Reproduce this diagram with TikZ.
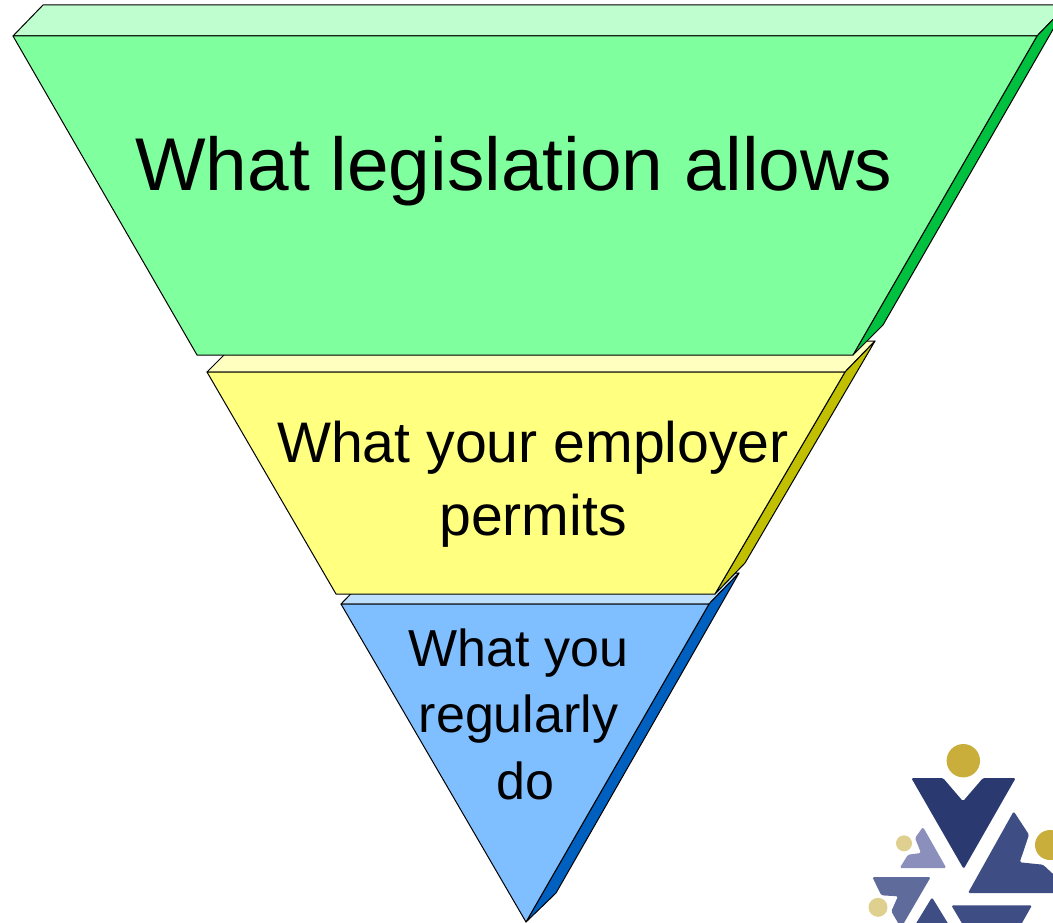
\documentclass[tikz,border=0pt]{standalone}
\usepackage{fontspec}
\setmainfont{Liberation Sans}
\tikzset{
  face/.style={draw=black,line width=1pt,line join=round},
  logo/.style={rounded corners=1.5pt,draw=none},
  label/.style={anchor=base,inner sep=0pt,align=center,text=black},
}
\definecolor{gF}{HTML}{80FF9F}\definecolor{gT}{HTML}{BFFFCF}\definecolor{gS}{HTML}{00C040}
\definecolor{yF}{HTML}{FFFF80}\definecolor{yT}{HTML}{FFFFBF}\definecolor{yS}{HTML}{C0C000}
\definecolor{bF}{HTML}{80BFFF}\definecolor{bT}{HTML}{BFDFFF}\definecolor{bS}{HTML}{0060C0}
\definecolor{lgold}{HTML}{C9AE3C}\definecolor{lpale}{HTML}{E0D08F}
\definecolor{lnavy}{HTML}{2A3A70}\definecolor{lblue}{HTML}{3E4D83}
\definecolor{lmid}{HTML}{5F6B9B}\definecolor{llight}{HTML}{8A8FBB}
\begin{document}
\begin{tikzpicture}[x=1pt,y=-1pt]
\useasboundingbox (0,0) rectangle (1053,923);
\clip (0,0) rectangle (1053,923);
% blue layer
\draw[face,fill=bT] (341,604) -- (371,573) -- (739,573) -- (709,604) -- cycle;
\draw[face,fill=bS] (709,604) -- (739,573) -- (556,893) -- (526,922) -- cycle;
\draw[face,fill=bF] (341,604) -- (709,604) -- (526,922) -- cycle;
% yellow layer
\draw[face,fill=yT] (207,372) -- (238,341) -- (875,341) -- (845,372) -- cycle;
\draw[face,fill=yS] (845,372) -- (875,341) -- (745,563) -- (715,594) -- cycle;
\draw[face,fill=yF] (207,372) -- (845,372) -- (715,594) -- (336,594) -- cycle;
% green layer
\draw[face,fill=gT] (13,36) -- (43,5) -- (1067,5) -- (1037,36) -- cycle;
\draw[face,fill=gS] (1037,36) -- (1067,5) -- (883,325) -- (853,355) -- cycle;
\draw[face,fill=gF] (13,36) -- (1037,36) -- (853,355) -- (197,355) -- cycle;
% labels
\node[label,font=\fontsize{74.8}{80}\selectfont] (legislation) at (513.7,191) {What legislation allows};
\node[label,font=\fontsize{57.2}{73}\selectfont] (employer) at (533,535) {What your employer\\permits};
\node[label,font=\fontsize{52}{66.5}\selectfont] (regular) at (518.5,799) {What you\\regularly\\\hspace*{14pt}do};
% logo
\fill[lgold] (963.3,760.7) circle (16.7);
\fill[lgold] (1050,845) circle (15);
\fill[lpale] (904,843.3) circle (8);
\fill[lpale] (878,907.3) circle (9.5);
\fill[lnavy,logo] (911.3,778) -- (943,778) -- (963,801.3) -- (983,778) -- (1015.7,778) -- (963.7,869) -- cycle;
\fill[lblue,logo] (1013.7,811.3) -- (1029,834.7) -- (1019.7,862.3) -- (1043,864.7) -- (1065,885) -- (1065,893) -- (968,893) -- cycle;
\fill[llight,logo] (923,827) -- (946.3,868) -- (899.7,868) -- (908,854.7) -- (921,853) -- (915,838) -- cycle;
\fill[lmid,logo] (872.3,877) -- (930.7,877) -- (901,928) -- (891.3,911.3) -- (898,896.3) -- (881.3,895.3) -- cycle;
\fill[lblue,logo] (932,897.3) -- (912,930) -- (952,930) -- cycle;
\fill[lblue,logo] (951.3,905.3) -- (1032,905.3) -- (1018,930) -- (966,930) -- cycle;
\end{tikzpicture}
\end{document}
